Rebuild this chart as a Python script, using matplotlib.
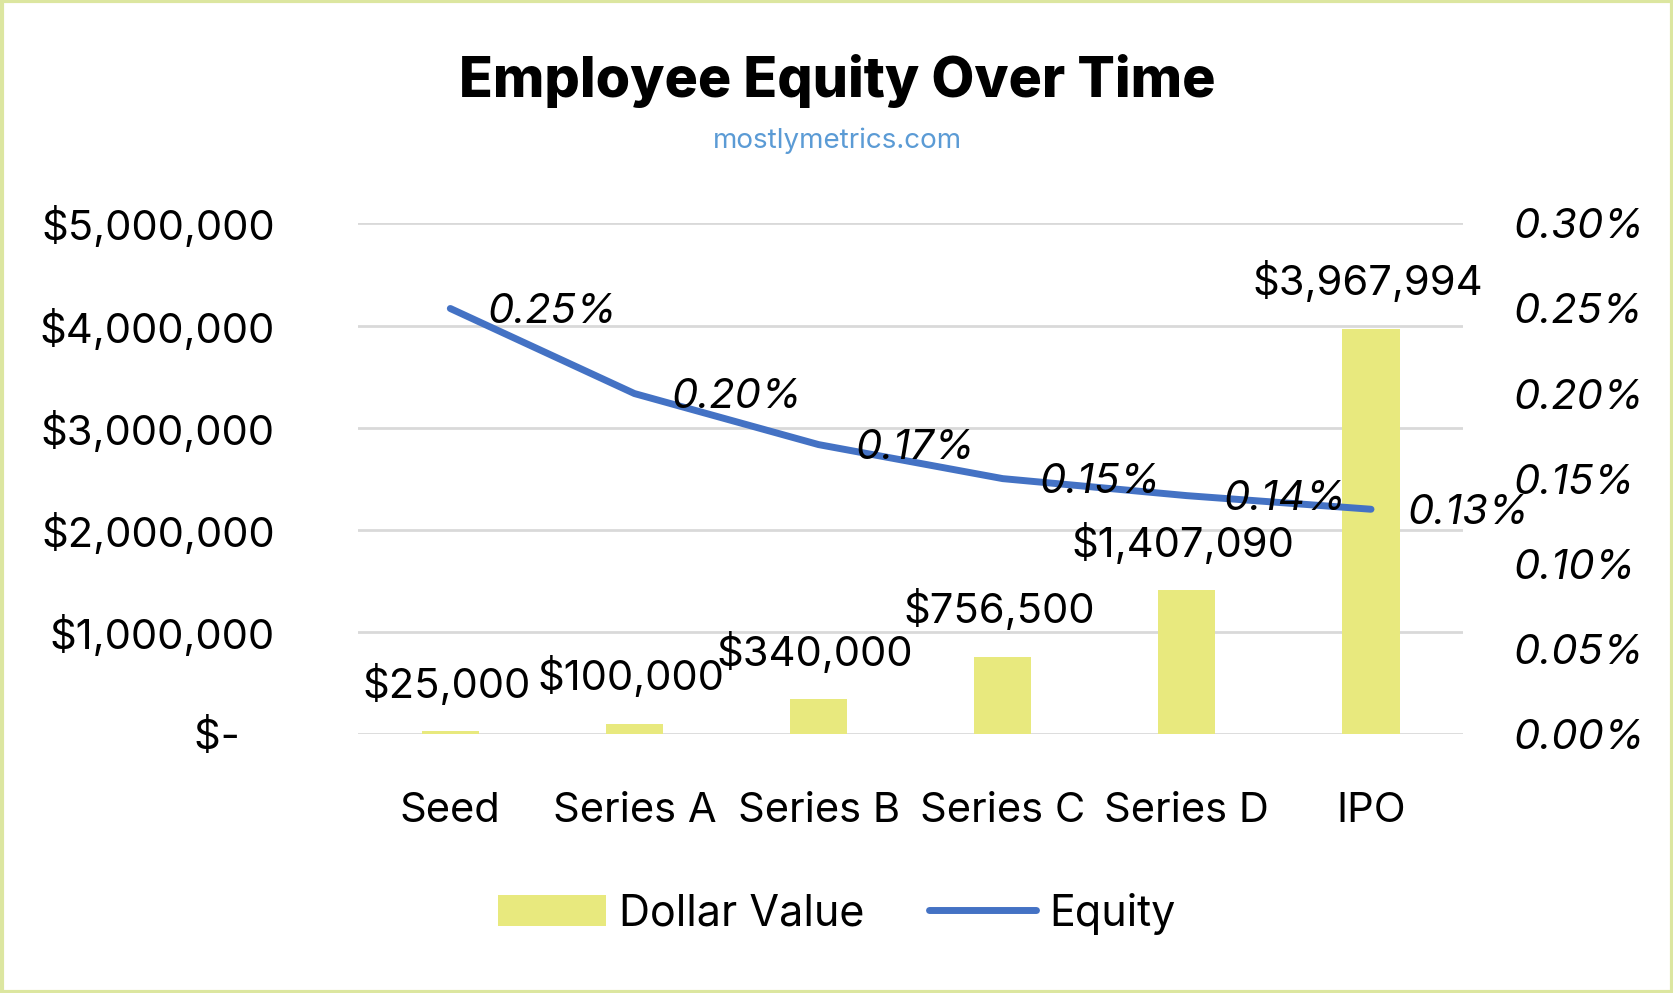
import matplotlib
matplotlib.use("Agg")
import matplotlib.pyplot as plt
from matplotlib.patches import Rectangle
from matplotlib.ticker import FuncFormatter

stages = ["Seed", "Series A", "Series B", "Series C", "Series D", "IPO"]
dollar_value = [25000, 100000, 340000, 756500, 1407090, 3967994]
equity = [0.25, 0.20, 0.17, 0.15, 0.14, 0.132]
equity_labels = ["0.25%", "0.20%", "0.17%", "0.15%", "0.14%", "0.13%"]

plt.rcParams['font.family'] = ['Inter', 'DejaVu Sans']
fig = plt.figure(figsize=(16.74, 9.93), dpi=100)
ax = fig.add_axes([0.214, 0.261, 0.66, 0.514])
ax2 = ax.twinx()

FS = 30
x = list(range(len(stages)))
ax.bar(x, dollar_value, width=0.31, color="#E8E97E", zorder=2, label="Dollar Value")
ax.set_ylim(0, 5000000)
ax.set_xlim(-0.5, 5.5)
ax.set_yticks([0, 1e6, 2e6, 3e6, 4e6, 5e6])
ax.yaxis.set_major_formatter(FuncFormatter(lambda v, p: "$-   " if v == 0 else f"${v:,.0f}"))
ax.grid(axis="y", color="#D9D9D9", linewidth=2, zorder=0)
ax.set_axisbelow(True)
ax.set_xticks(x)
ax.set_xticklabels(stages)
for s in ["top", "right", "left", "bottom"]:
    ax.spines[s].set_visible(False)
    ax2.spines[s].set_visible(False)
ax.tick_params(length=0, labelsize=FS, pad=60)
ax.tick_params(axis="x", pad=42)
for xi, v in zip(x, dollar_value):
    ax.text(xi - 0.02, v + 250000, f"${v:,.0f}", ha="center", va="bottom", fontsize=FS)

ax2.plot(x, equity, color="#4472C4", linewidth=5, zorder=3, label="Equity", solid_capstyle="round")
ax2.set_ylim(0, 0.30)
ax2.set_yticks([0, 0.05, 0.10, 0.15, 0.20, 0.25, 0.30])
ax2.yaxis.set_major_formatter(FuncFormatter(lambda v, p: f"{v:.2f}%"))
ax2.tick_params(length=0, labelsize=FS, pad=36)
for lbl in ax2.get_yticklabels():
    lbl.set_fontstyle("italic")
for xi, v, t in zip(x, equity, equity_labels):
    ax2.text(xi + 0.2, v - 0.002, t, ha="left", va="center", fontsize=FS, style="italic")

fig.text(0.5, 0.918, "Employee Equity Over Time", ha="center", va="center", fontsize=40, fontweight="heavy")
fig.text(0.5, 0.858, "mostlymetrics.com", ha="center", va="center", fontsize=20, color="#5B9BD5")

h1, l1 = ax.get_legend_handles_labels()
h2, l2 = ax2.get_legend_handles_labels()
fig.legend(h1 + h2, l1 + l2, loc="center", bbox_to_anchor=(0.5, 0.08), ncol=2, frameon=False,
           fontsize=31, handlelength=2.5, columnspacing=1.5, handletextpad=0.3)

fig.patches.append(Rectangle((0.001, 0.001), 0.998, 0.998, transform=fig.transFigure,
                             fill=False, edgecolor="#DCE6A0", linewidth=3))
fig.savefig("out.png", dpi=100, facecolor="white")
